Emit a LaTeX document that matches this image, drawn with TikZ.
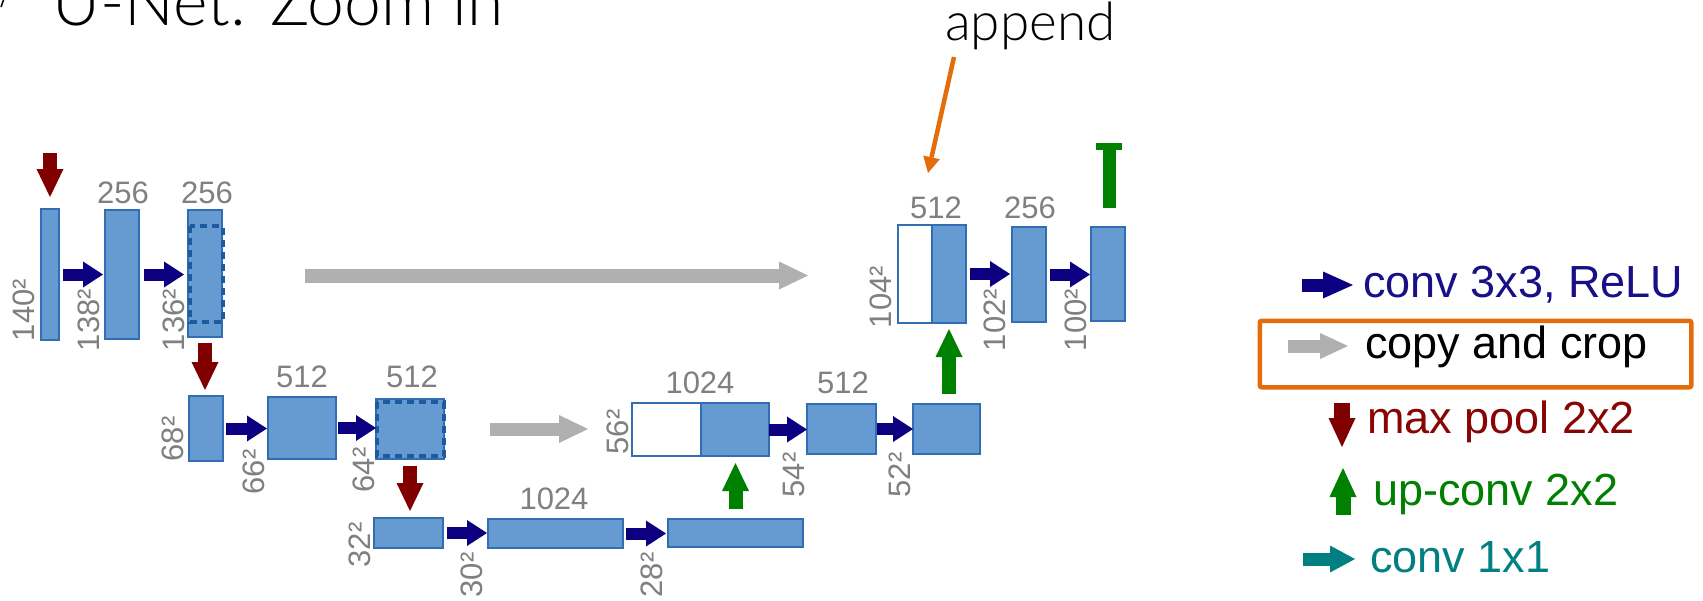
\documentclass[tikz,border=0pt]{standalone}
\usepackage{fontspec}
\setmainfont{Liberation Sans}
\IfFontExistsTF{Lato Light}{\newfontfamily\thinfont{Lato Light}}{\newfontfamily\thinfont{Lato}}
\usetikzlibrary{arrows.meta,calc}
\definecolor{boxfill}{RGB}{102,155,210}
\definecolor{boxline}{RGB}{50,110,180}
\definecolor{dashline}{RGB}{30,90,160}
\definecolor{convblue}{RGB}{13,0,128}
\definecolor{poolred}{RGB}{128,0,0}
\definecolor{upgreen}{RGB}{0,128,0}
\definecolor{copygray}{RGB}{176,176,176}
\definecolor{tealc}{RGB}{0,128,128}
\definecolor{numgray}{RGB}{128,128,128}
\definecolor{annorange}{RGB}{228,108,10}
\definecolor{legnavy}{RGB}{25,15,135}
\definecolor{legred}{RGB}{135,5,5}
\tikzset{
  box/.style={draw=boxline, fill=boxfill, line width=1.5pt, inner sep=0pt, outer sep=0pt, anchor=north west},
  whitebox/.style={box, fill=white},
  cropframe/.style={draw=dashline, line width=4pt, dash pattern=on 7pt off 5pt},
  num/.style={text=numgray, font=\fontsize{31}{31}\selectfont, inner sep=0pt},
  toplabel/.style={num, anchor=base},
  dimlabel/.style={num, rotate=90},
  convarr/.style={draw=convblue, line width=12pt, -{Triangle[width=26pt 0,length=20pt 0,line width=0pt]}},
  copyarr/.style={draw=copygray, line width=14pt, -{Triangle[width=28pt 0,length=29pt 0,line width=0pt]}},
  poolarr/.style={draw=poolred, line width=14pt, -{Triangle[width=27pt 0,length=28pt 0,line width=0pt]}},
  uparr/.style={draw=upgreen, line width=14pt, -{Triangle[width=27pt 0,length=28pt 0,line width=0pt]}},
  tealarr/.style={draw=tealc, line width=13pt, -{Triangle[width=27pt 0,length=25pt 0,line width=0pt]}},
  legtext/.style={anchor=base west, inner sep=0pt, font=\fontsize{45}{45}\selectfont},
  thintext/.style={anchor=base west, inner sep=0pt, text=black}
}
\begin{document}
\begin{tikzpicture}[x=1pt,y=-1pt]
\useasboundingbox (0,0) rectangle (1703,600);
\clip (0,0) rectangle (1703,600);
\fill[white] (0,0) rectangle (1703,600);

% title (cropped at top)
\node[thintext, font=\thinfont\fontsize{66}{66}\selectfont] (title) at (52,25) {U-Net: Zoom in};
\draw[line width=1.5pt] (3.5,0) -- (1,7);

% annotation
\node[thintext, font=\thinfont\fontsize{53}{53}\selectfont] (append) at (945,40) {append};
\coordinate (apS) at (954,57);
\coordinate (apT) at (928,173);
\draw[annorange, line width=4.5pt, -{Triangle[width=17pt 0,length=16pt 0,line width=0pt]}] (apS) -- (apT);

% level 1
\node[box, minimum width=18pt, minimum height=131pt] (b1) at (41,209) {};
\node[box, minimum width=34pt, minimum height=129pt] (b2) at (105,210) {};
\node[box, minimum width=34pt, minimum height=127pt] (b3) at (188,210) {};
\draw[cropframe] (190,226) rectangle (222.5,322);

% level 2
\node[box, minimum width=34pt, minimum height=65pt] (b4) at (189,396) {};
\node[box, minimum width=68pt, minimum height=62pt] (b5) at (268,397) {};
\node[box, minimum width=68pt, minimum height=60pt] (b6) at (376,399) {};
\draw[cropframe] (377,402) rectangle (443.5,456);

% level 3
\node[box, minimum width=69pt, minimum height=30pt] (b7) at (374,518) {};
\node[box, minimum width=135pt, minimum height=29pt] (b8) at (488,519) {};
\node[box, minimum width=135pt, minimum height=28pt] (b9) at (668,519) {};

% expanding level 2
\node[whitebox, minimum width=69pt, minimum height=53pt] (b10w) at (632,403) {};
\node[box, minimum width=68pt, minimum height=53pt] (b10b) at (701,403) {};
\node[box, minimum width=69pt, minimum height=50pt] (b11) at (807,404) {};
\node[box, minimum width=67pt, minimum height=50pt] (b12) at (913,404) {};

% expanding level 1
\node[whitebox, minimum width=34pt, minimum height=98pt] (b13w) at (898,225) {};
\node[box, minimum width=34pt, minimum height=98pt] (b13b) at (932,225) {};
\node[box, minimum width=34pt, minimum height=95pt] (b14) at (1012,227) {};
\node[box, minimum width=34pt, minimum height=94pt] (b15) at (1091,227) {};

% top labels
\node[toplabel] (l2) at (123,203) {256};
\node[toplabel] (l3) at (207,203) {256};
\node[toplabel] (l5) at (302,387) {512};
\node[toplabel] (l6) at (412,387) {512};
\node[toplabel] (l8) at (554,509) {1024};
\node[toplabel] (l10) at (700,393) {1024};
\node[toplabel] (l11) at (843,393) {512};
\node[toplabel] (l13) at (936,218) {512};
\node[toplabel] (l14) at (1030,218) {256};

% rotated size labels
\node[dimlabel] (d1) at (24,310) {140²};
\node[dimlabel] (d2) at (89,320) {138²};
\node[dimlabel] (d3) at (174,320) {136²};
\node[dimlabel] (d4) at (173,439) {68²};
\node[dimlabel] (d5) at (254,472) {66²};
\node[dimlabel] (d6) at (364,470) {64²};
\node[dimlabel] (d7) at (360,545) {32²};
\node[dimlabel] (d8) at (472,575) {30²};
\node[dimlabel] (d9) at (652,575) {28²};
\node[dimlabel] (d10) at (618,432) {56²};
\node[dimlabel] (d11) at (794,475) {54²};
\node[dimlabel] (d12) at (900,475) {52²};
\node[dimlabel] (d13) at (881,297) {104²};
\node[dimlabel] (d14) at (995,320) {102²};
\node[dimlabel] (d15) at (1076,320) {100²};

% conv arrows
\draw[convarr, shorten <=4pt, shorten >=2pt] (b1.east) -- (b1.east -| b2.west);
\draw[convarr, shorten <=5pt, shorten >=4pt] (b2.east) -- (b2.east -| b3.west);
\draw[convarr, shorten <=3pt, shorten >=1pt] (b4.east) -- (b4.east -| b5.west);
\draw[convarr, shorten <=2pt, shorten >=0pt] (b5.east) -- (b5.east -| b6.west);
\draw[convarr, shorten <=4pt, shorten >=1pt] (b7.east) -- (b7.east -| b8.west);
\draw[convarr, shorten <=3pt, shorten >=2pt] (b8.east) -- (b8.east -| b9.west);
\draw[convarr, shorten <=0pt, shorten >=0pt] (b10b.east) -- (b10b.east -| b11.west);
\draw[convarr, shorten <=1pt, shorten >=0pt] (b11.east) -- (b11.east -| b12.west);
\draw[convarr, shorten <=4pt, shorten >=2pt] (b13b.east) -- (b13b.east -| b14.west);
\draw[convarr, shorten <=4pt, shorten >=1pt] (b14.east) -- (b14.east -| b15.west);

% copy and crop
\draw[copyarr, shorten <=83pt, shorten >=90pt] ($(b3.east)+(0,2)$) -- ($(b3.east -| b13w.west)+(0,2)$);
\draw[copyarr, line width=13pt, shorten <=46pt, shorten >=44pt] (b6.east) -- (b6.east -| b10w.west);

% max pool
\coordinate (inp) at (50,153);
\draw[poolarr, shorten >=12pt] (inp) -- (b1.north);
\draw[poolarr, shorten <=6pt, shorten >=6pt] (b3.south) -- (b3.south |- b4.north);
\draw[poolarr, shorten <=7pt, shorten >=7pt] (b6.south) -- (b6.south |- b7.north);

% up-conv
\draw[uparr, shorten <=10pt, shorten >=7pt] (b9.north) -- (b9.north |- b10b.south);
\draw[uparr, shorten <=10pt, shorten >=6pt] (b13b.south |- b12.north) -- (b13b.south);
\fill[upgreen] ($(b15.north)+(-5.5,-19)$) rectangle ($(b15.north)+(7.5,-78)$);
\fill[upgreen] ($(b15.north)+(-12,-77)$) rectangle ($(b15.north)+(14,-84)$);

% legend
\coordinate (lg1a) at (1302,285); \coordinate (lg1b) at (1353,285);
\draw[convarr, line width=13pt, -{Triangle[width=27pt 0,length=30pt 0,line width=0pt]}] (lg1a) -- (lg1b);
\node[legtext, text=legnavy] (lt1) at (1363,297) {conv 3x3, ReLU};

\node[draw=annorange, line width=4.5pt, rounded corners=2pt, minimum width=431.5pt, minimum height=66.5pt, inner sep=0pt, anchor=north west] (legbox) at (1257.5,318.5) {};
\coordinate (lg2a) at (1288,346); \coordinate (lg2b) at (1348,346);
\draw[copyarr, line width=13pt, -{Triangle[width=26pt 0,length=28pt 0,line width=0pt]}] (lg2a) -- (lg2b);
\node[legtext, text=black] (lt2) at (1365,358) {copy and crop};

\coordinate (lg3a) at (1342,403); \coordinate (lg3b) at (1342,447);
\draw[poolarr, line width=16pt, -{Triangle[width=27pt 0,length=29pt 0,line width=0pt]}] (lg3a) -- (lg3b);
\node[legtext, text=legred] (lt3) at (1367,433) {max pool 2x2};

\coordinate (lg4a) at (1343,515); \coordinate (lg4b) at (1343,468);
\draw[uparr, line width=15pt, -{Triangle[width=27pt 0,length=29pt 0,line width=0pt]}] (lg4a) -- (lg4b);
\node[legtext, text=upgreen] (lt4) at (1373,505) {up-conv 2x2};

\coordinate (lg5a) at (1303,559); \coordinate (lg5b) at (1355,559);
\draw[tealarr] (lg5a) -- (lg5b);
\node[legtext, text=tealc] (lt5) at (1370,572) {conv 1x1};
\end{tikzpicture}
\end{document}
